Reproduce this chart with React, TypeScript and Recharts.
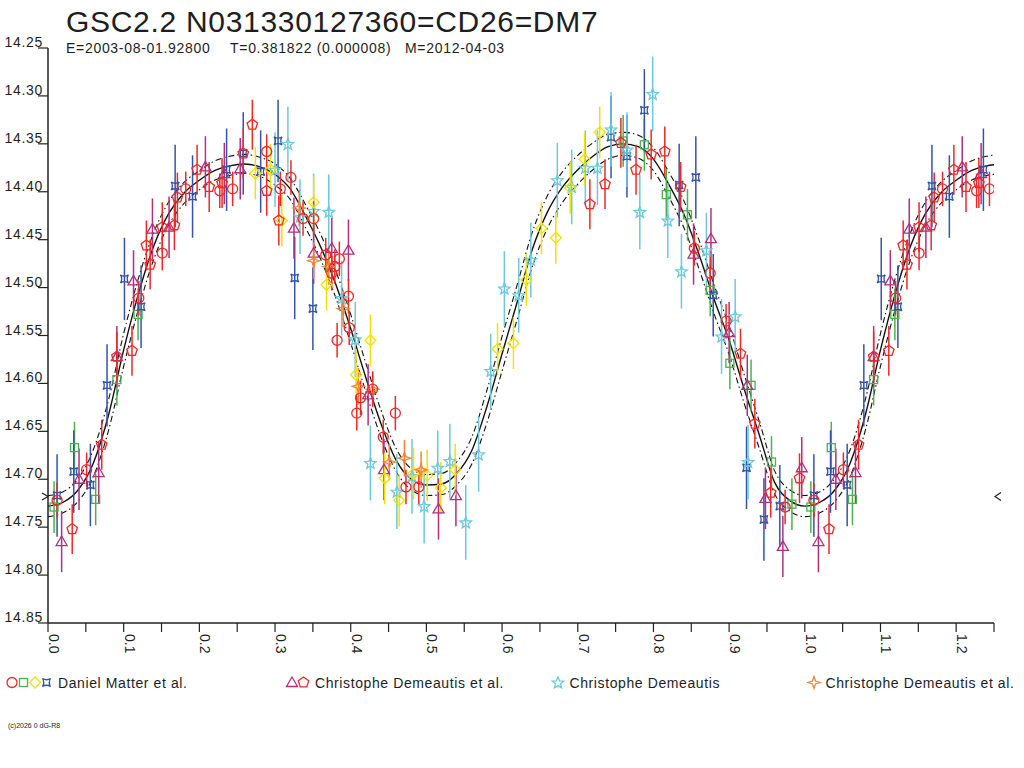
import React from 'react';
import { ComposedChart, Scatter, Line, XAxis, YAxis, ErrorBar, ReferenceDot } from 'recharts';

const FONT = '"Liberation Sans", Arial, sans-serif';
const TEXT = '#1e1e1e';

const title = 'GSC2.2 N031330127360=CD26=DM7';
const subtitleParts = ['E=2003-08-01.92800', 'T=0.381822 (0.000008)', 'M=2012-04-03'];
const copyright = '(c)2026 0 dG-R8';

const xTicks = [0, 0.05, 0.1, 0.15, 0.2, 0.25, 0.3, 0.35, 0.4, 0.45, 0.5, 0.55, 0.6, 0.65, 0.7, 0.75, 0.8, 0.85, 0.9, 0.95, 1.0, 1.05, 1.1, 1.15, 1.2, 1.25];
const yTicks = [14.25, 14.3, 14.35, 14.4, 14.45, 14.5, 14.55, 14.6, 14.65, 14.7, 14.75, 14.8, 14.85];
const xDomain: [number, number] = [0, 1.25];
const yDomain: [number, number] = [14.25, 14.85];
const limitMag = 14.718;

// fitted light curve (phase 0..1)
const curvePhase = [0, 0.02, 0.04, 0.06, 0.08, 0.1, 0.12, 0.14, 0.16, 0.18, 0.2, 0.22, 0.24, 0.26, 0.28, 0.3, 0.32, 0.34, 0.36, 0.38, 0.4, 0.42, 0.44, 0.46, 0.48, 0.5, 0.52, 0.54, 0.56, 0.58, 0.6, 0.62, 0.64, 0.66, 0.68, 0.7, 0.72, 0.74, 0.76, 0.78, 0.8, 0.82, 0.84, 0.86, 0.88, 0.9, 0.92, 0.94, 0.96, 0.98, 1.0];
const curveMid = [14.728, 14.724, 14.711, 14.683, 14.633, 14.565, 14.505, 14.456, 14.422, 14.401, 14.388, 14.378, 14.373, 14.371, 14.374, 14.382, 14.397, 14.425, 14.457, 14.496, 14.543, 14.594, 14.642, 14.68, 14.7, 14.706, 14.705, 14.694, 14.67, 14.624, 14.569, 14.515, 14.46, 14.421, 14.395, 14.377, 14.363, 14.353, 14.35, 14.353, 14.366, 14.392, 14.423, 14.465, 14.512, 14.555, 14.606, 14.654, 14.703, 14.722, 14.728];
const curveUpper = [14.717, 14.713, 14.699, 14.669, 14.617, 14.548, 14.489, 14.442, 14.41, 14.39, 14.378, 14.368, 14.363, 14.361, 14.364, 14.371, 14.386, 14.413, 14.444, 14.482, 14.528, 14.579, 14.628, 14.668, 14.689, 14.695, 14.694, 14.682, 14.656, 14.607, 14.551, 14.497, 14.442, 14.404, 14.379, 14.362, 14.349, 14.34, 14.338, 14.341, 14.354, 14.379, 14.409, 14.45, 14.497, 14.54, 14.591, 14.64, 14.691, 14.711, 14.717];
const curveLower = [14.739, 14.735, 14.723, 14.697, 14.649, 14.582, 14.521, 14.47, 14.434, 14.412, 14.398, 14.388, 14.383, 14.381, 14.384, 14.393, 14.408, 14.437, 14.47, 14.51, 14.558, 14.609, 14.656, 14.692, 14.711, 14.717, 14.716, 14.706, 14.684, 14.641, 14.587, 14.533, 14.478, 14.438, 14.411, 14.392, 14.377, 14.366, 14.362, 14.365, 14.378, 14.405, 14.437, 14.48, 14.527, 14.57, 14.621, 14.668, 14.715, 14.733, 14.739];

type Pt = [number, number];

// Daniel Matter et al.
const matterCircle: Pt[] = [[0.012, 14.722], [0.051, 14.69], [0.12, 14.511], [0.151, 14.464], [0.182, 14.397], [0.227, 14.399], [0.244, 14.397], [0.289, 14.358], [0.307, 14.397], [0.321, 14.385], [0.337, 14.428], [0.351, 14.428], [0.367, 14.466], [0.375, 14.485], [0.379, 14.478], [0.385, 14.47], [0.397, 14.509], [0.398, 14.542], [0.382, 14.555], [0.413, 14.615], [0.408, 14.631], [0.429, 14.606], [0.459, 14.631], [0.443, 14.656], [0.473, 14.708], [0.49, 14.708], [0.854, 14.459], [0.875, 14.485], [0.896, 14.535], [0.974, 14.729]];
const matterSquare: Pt[] = [[0.008, 14.729], [0.035, 14.667], [0.063, 14.721], [0.091, 14.596], [0.119, 14.528], [0.76, 14.347], [0.788, 14.351], [0.817, 14.403], [0.845, 14.424], [0.875, 14.503], [0.901, 14.579], [0.929, 14.602], [0.956, 14.682], [0.983, 14.726]];
const matterDiamond: Pt[] = [[0.274, 14.381], [0.294, 14.377], [0.309, 14.43], [0.351, 14.411], [0.368, 14.497], [0.407, 14.591], [0.426, 14.555], [0.445, 14.699], [0.464, 14.722], [0.483, 14.694], [0.501, 14.696], [0.519, 14.709], [0.538, 14.69], [0.594, 14.564], [0.615, 14.558], [0.632, 14.492], [0.652, 14.438], [0.671, 14.448], [0.69, 14.396], [0.709, 14.366], [0.729, 14.338]];
const matterBowtie: Pt[] = [[0.012, 14.717], [0.034, 14.692], [0.056, 14.706], [0.078, 14.602], [0.101, 14.491], [0.123, 14.52], [0.168, 14.394], [0.191, 14.405], [0.236, 14.377], [0.258, 14.36], [0.281, 14.379], [0.304, 14.347], [0.326, 14.49], [0.35, 14.522], [0.744, 14.343], [0.765, 14.363], [0.788, 14.315], [0.834, 14.393], [0.856, 14.385], [0.879, 14.508], [0.923, 14.688], [0.946, 14.742], [0.967, 14.728]];
// Christophe Demeautis et al.
const demTriangle: Pt[] = [[0.018, 14.765], [0.041, 14.7], [0.067, 14.693], [0.091, 14.572], [0.113, 14.493], [0.138, 14.439], [0.16, 14.437], [0.208, 14.374], [0.233, 14.381], [0.254, 14.376], [0.325, 14.438], [0.351, 14.464], [0.375, 14.459], [0.397, 14.461], [0.423, 14.612], [0.444, 14.69], [0.516, 14.731], [0.539, 14.717], [0.853, 14.465], [0.876, 14.449], [0.9, 14.547], [0.924, 14.602], [0.948, 14.72], [0.971, 14.77], [0.996, 14.688]];
const demPentagon: Pt[] = [[0.032, 14.752], [0.071, 14.664], [0.091, 14.572], [0.111, 14.566], [0.13, 14.456], [0.135, 14.476], [0.151, 14.437], [0.167, 14.435], [0.171, 14.406], [0.197, 14.377], [0.213, 14.395], [0.23, 14.391], [0.258, 14.36], [0.27, 14.33], [0.289, 14.399], [0.305, 14.43], [0.716, 14.413], [0.736, 14.392], [0.757, 14.349], [0.777, 14.377], [0.797, 14.361], [0.815, 14.358], [0.836, 14.395], [0.915, 14.569], [0.934, 14.642], [0.955, 14.714], [0.993, 14.699]];
// Christophe Demeautis
const demStar: Pt[] = [[0.3, 14.377], [0.317, 14.35], [0.333, 14.426], [0.351, 14.42], [0.371, 14.421], [0.388, 14.511], [0.406, 14.554], [0.426, 14.683], [0.461, 14.713], [0.481, 14.697], [0.497, 14.728], [0.515, 14.688], [0.531, 14.681], [0.552, 14.745], [0.569, 14.674], [0.585, 14.587], [0.603, 14.501], [0.622, 14.508], [0.638, 14.471], [0.673, 14.388], [0.692, 14.395], [0.71, 14.375], [0.726, 14.375], [0.744, 14.335], [0.765, 14.356], [0.782, 14.421], [0.799, 14.298], [0.819, 14.43], [0.837, 14.483], [0.87, 14.461], [0.89, 14.551], [0.908, 14.53], [0.925, 14.682]];
// Christophe Demeautis et al. (second set)
const demCross: Pt[] = [[0.332, 14.417], [0.351, 14.472], [0.371, 14.478], [0.39, 14.522], [0.41, 14.603], [0.429, 14.606], [0.451, 14.682], [0.471, 14.678], [0.493, 14.69]];

const COLORS = {
  red: '#f02828',
  green: '#4cb04c',
  yellow: '#f2e200',
  blue: '#3454a8',
  purple: '#b0307e',
  cyan: '#6cc8dc',
  orange: '#f58232',
};

type Kind = 'circle' | 'square' | 'diamond' | 'bowtie' | 'triangle' | 'pentagon' | 'star' | 'cross';

const series: { pts: Pt[]; err: number; color: string; kind: Kind }[] = [
  { pts: matterSquare, err: 0.027, color: COLORS.green, kind: 'square' },
  { pts: matterBowtie, err: 0.043, color: COLORS.blue, kind: 'bowtie' },
  { pts: demStar, err: 0.039, color: COLORS.cyan, kind: 'star' },
  { pts: demTriangle, err: 0.032, color: COLORS.purple, kind: 'triangle' },
  { pts: matterDiamond, err: 0.027, color: COLORS.yellow, kind: 'diamond' },
  { pts: demCross, err: 0.019, color: COLORS.orange, kind: 'cross' },
  { pts: demPentagon, err: 0.026, color: COLORS.red, kind: 'pentagon' },
  { pts: matterCircle, err: 0.018, color: COLORS.red, kind: 'circle' },
];

const legendGroups: { kinds: { kind: Kind; color: string }[]; label: string; x: number }[] = [
  { kinds: [{ kind: 'circle', color: COLORS.red }, { kind: 'square', color: COLORS.green }, { kind: 'diamond', color: COLORS.yellow }, { kind: 'bowtie', color: COLORS.blue }], label: 'Daniel Matter et al.', x: 12 },
  { kinds: [{ kind: 'triangle', color: COLORS.purple }, { kind: 'pentagon', color: COLORS.red }], label: 'Christophe Demeautis et al.', x: 292 },
  { kinds: [{ kind: 'star', color: COLORS.cyan }], label: 'Christophe Demeautis', x: 558 },
  { kinds: [{ kind: 'cross', color: COLORS.orange }], label: 'Christophe Demeautis et al.', x: 814 },
];

function wrapPhase(pts: Pt[]) {
  const base = pts.map(([x, y]) => ({ x, y }));
  const extra = pts.filter(([x]) => x + 1 <= xDomain[1]).map(([x, y]) => ({ x: x + 1, y }));
  return base.concat(extra);
}

function curveData(vals: number[]) {
  const base = curvePhase.map((x, i) => ({ x, y: vals[i] }));
  const extra = curvePhase
    .map((x, i) => ({ x: x + 1, y: vals[i] }))
    .filter((p, i) => i > 0 && curvePhase[i] <= 0.26);
  return base.concat(extra);
}

function polyPath(cx: number, cy: number, n: number, r: number, inner?: number) {
  const pts: string[] = [];
  const count = inner ? n * 2 : n;
  for (let i = 0; i < count; i++) {
    const rr = inner && i % 2 === 1 ? inner : r;
    const a = -Math.PI / 2 + (i * Math.PI * 2) / count;
    pts.push(`${(cx + rr * Math.cos(a)).toFixed(2)},${(cy + rr * Math.sin(a)).toFixed(2)}`);
  }
  return 'M' + pts.join('L') + 'Z';
}

function Marker({ kind, color, cx, cy }: { kind: Kind; color: string; cx: number; cy: number }) {
  const common = { fill: 'none', stroke: color, strokeWidth: 1.3 };
  switch (kind) {
    case 'circle':
      return <circle cx={cx} cy={cy} r={5} {...common} />;
    case 'square':
      return <rect x={cx - 4} y={cy - 4} width={8} height={8} {...common} />;
    case 'diamond':
      return <path d={`M${cx},${cy - 5.5}L${cx + 5.5},${cy}L${cx},${cy + 5.5}L${cx - 5.5},${cy}Z`} {...common} />;
    case 'bowtie':
      return (
        <path
          d={`M${cx - 4},${cy - 4}Q${cx},${cy - 1.5} ${cx + 4},${cy - 4}Q${cx + 1.5},${cy} ${cx + 4},${cy + 4}Q${cx},${cy + 1.5} ${cx - 4},${cy + 4}Q${cx - 1.5},${cy} ${cx - 4},${cy - 4}Z`}
          {...common}
        />
      );
    case 'triangle':
      return <path d={`M${cx},${cy - 5.5}L${cx + 5.5},${cy + 4}L${cx - 5.5},${cy + 4}Z`} {...common} />;
    case 'pentagon':
      return <path d={polyPath(cx, cy, 5, 5.5)} {...common} />;
    case 'star':
      return <path d={polyPath(cx, cy + 0.5, 5, 6, 2.6)} {...common} />;
    case 'cross':
      return (
        <path
          d={`M${cx},${cy - 6}L${cx + 1.5},${cy - 1.5}L${cx + 6},${cy}L${cx + 1.5},${cy + 1.5}L${cx},${cy + 6}L${cx - 1.5},${cy + 1.5}L${cx - 6},${cy}L${cx - 1.5},${cy - 1.5}Z`}
          {...common}
        />
      );
  }
  return null;
}

const XTick = (props: any) => {
  const { x, y, payload } = props;
  const v = payload.value as number;
  const isMajor = Math.abs(Math.round(v * 100) % 10) === 0;
  if (!isMajor) return <g />;
  return (
    <text
      transform={`translate(${x + 1},${y}) rotate(90)`}
      textAnchor="start"
      fontFamily={FONT}
      fontSize={14}
      fill={TEXT}
    >
      {v.toFixed(1)}
    </text>
  );
};

const YTick = (props: any) => {
  const { x, y, payload } = props;
  return (
    <text x={x + 7} y={y - 1} textAnchor="end" fontFamily={FONT} fontSize={14} letterSpacing={0.7} fill={TEXT}>
      {(payload.value as number).toFixed(2)}
    </text>
  );
};

export default function App() {
  const mid = curveData(curveMid);
  const up = curveData(curveUpper);
  const low = curveData(curveLower);
  return (
    <div style={{ position: 'absolute', left: 0, top: 0, width: 1024, height: 768, background: '#fff' }}>
      <ComposedChart width={1024} height={768} margin={{ top: 48, right: 30, bottom: 0, left: 0 }}>
        <XAxis
          type="number"
          dataKey="x"
          domain={xDomain}
          ticks={xTicks}
          interval={0}
          allowDataOverflow
          height={145}
          tickSize={9}
          tick={XTick}
          axisLine={{ stroke: '#222', strokeWidth: 1.5 }}
          tickLine={{ stroke: '#222', strokeWidth: 1.2 }}
        />
        <YAxis
          type="number"
          dataKey="y"
          reversed
          domain={yDomain}
          ticks={yTicks}
          interval={0}
          allowDataOverflow
          width={48}
          tickSize={10}
          tick={YTick}
          axisLine={{ stroke: '#222', strokeWidth: 1.5 }}
          tickLine={{ stroke: '#222', strokeWidth: 1.2 }}
        />
        <Line data={up} dataKey="y" type="monotone" stroke="#111" strokeWidth={1.1} strokeDasharray="6 3 1.5 3" dot={false} isAnimationActive={false} legendType="none" />
        <Line data={low} dataKey="y" type="monotone" stroke="#111" strokeWidth={1.1} strokeDasharray="6 3 1.5 3" dot={false} isAnimationActive={false} legendType="none" />
        <Line data={mid} dataKey="y" type="monotone" stroke="#111" strokeWidth={1.4} dot={false} isAnimationActive={false} legendType="none" />
        {series.map((s, i) => (
          <Scatter
            key={i}
            data={wrapPhase(s.pts).map((p) => ({ ...p, e: s.err }))}
            isAnimationActive={false}
            legendType="none"
            shape={(p: any) => <Marker kind={s.kind} color={s.color} cx={p.cx} cy={p.cy} />}
          >
            <ErrorBar dataKey="e" direction="y" width={0} stroke={s.color} strokeWidth={1.5} />
          </Scatter>
        ))}
        <ReferenceDot
          x={xDomain[0]}
          y={limitMag}
          ifOverflow="visible"
          shape={(p: any) => (
            <path d={`M${p.cx - 6},${p.cy - 3.5}L${p.cx},${p.cy}L${p.cx - 6},${p.cy + 3.5}`} fill="none" stroke="#222" strokeWidth={1.2} />
          )}
        />
        <ReferenceDot
          x={xDomain[1]}
          y={limitMag}
          ifOverflow="visible"
          shape={(p: any) => (
            <path d={`M${p.cx + 7},${p.cy - 4}L${p.cx + 1},${p.cy}L${p.cx + 7},${p.cy + 4}`} fill="none" stroke="#222" strokeWidth={1.2} />
          )}
        />
      </ComposedChart>
      <svg width={1024} height={768} style={{ position: 'absolute', left: 0, top: 0, pointerEvents: 'none' }}>
        <text x={66} y={32} fontFamily={FONT} fontSize={30} letterSpacing={0.7} fill={TEXT}>
          {title}
        </text>
        <text x={66} y={53} fontFamily={FONT} fontSize={14} letterSpacing={0.7} fill={TEXT}>{subtitleParts[0]}</text>
        <text x={230} y={53} fontFamily={FONT} fontSize={14} letterSpacing={0.7} fill={TEXT}>{subtitleParts[1]}</text>
        <text x={405} y={53} fontFamily={FONT} fontSize={14} letterSpacing={0.7} fill={TEXT}>{subtitleParts[2]}</text>
        {legendGroups.map((g, gi) => (
          <g key={gi}>
            {g.kinds.map((k, ki) => (
              <Marker key={ki} kind={k.kind} color={k.color} cx={g.x + ki * 11.5} cy={682.5} />
            ))}
            <text x={g.x + g.kinds.length * 11.5 + 0} y={687.5} fontFamily={FONT} fontSize={14} letterSpacing={0.6} fill={TEXT}>
              {g.label}
            </text>
          </g>
        ))}
        <text x={8} y={728} fontFamily={FONT} fontSize={7} fill={TEXT}>
          {copyright}
        </text>
      </svg>
    </div>
  );
}
